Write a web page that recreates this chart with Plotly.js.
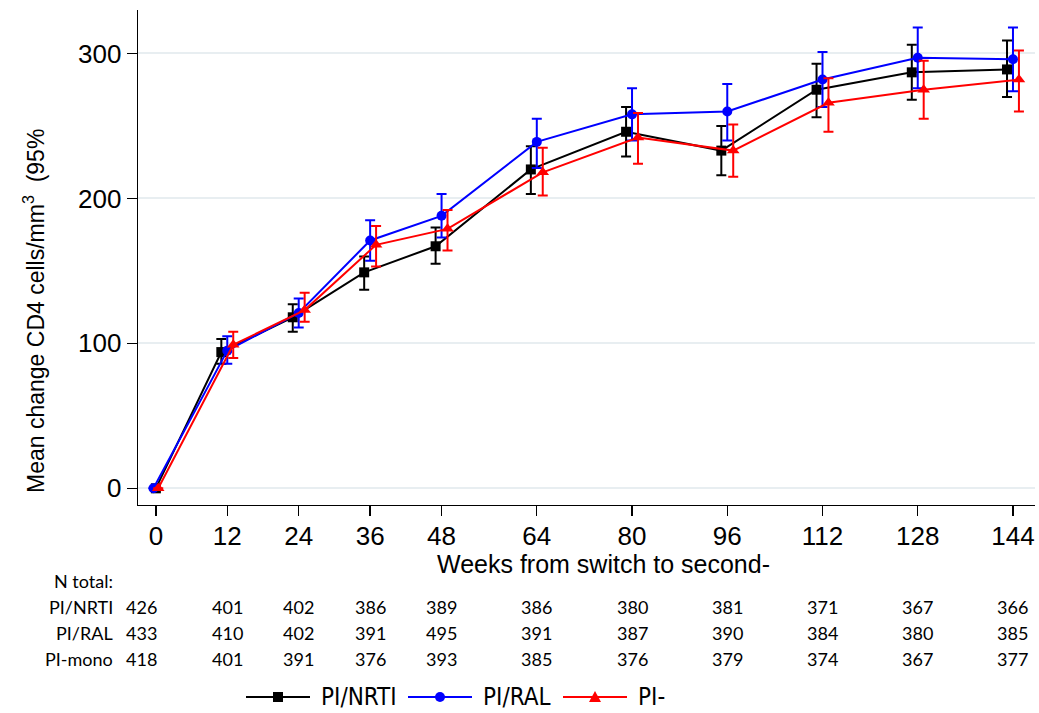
<!DOCTYPE html>
<html>
<head>
<meta charset="utf-8">
<script src="https://cdn.plot.ly/plotly-3.0.1.min.js"></script>
<style>html,body{margin:0;padding:0;background:#fff;}#chart{width:1039px;height:713px;}</style>
</head>
<body>
<div id="chart"></div>
<script>
// ---- data ----
var weeks = [0, 12, 24, 36, 48, 64, 80, 96, 112, 128, 144];
var tickLabels = ["0", "12", "24", "36", "48", "64", "80", "96", "112", "128", "144"];

// plotted x positions (groups are slightly dodged around each visit week)
var xNRTI = [0, 11, 23, 35, 47, 63, 79, 95, 111, 127, 143];
var xRAL  = [-0.4, 12, 24, 36, 48, 64, 80, 96, 112, 128, 144];
var xMono = [0.4, 13, 25, 37, 49, 65, 81, 97, 113, 129, 145];

var meanNRTI = [0, 94, 118, 149, 167, 220, 246, 233, 275, 287, 289];
var upNRTI   = [0, 103, 127, 160, 180, 236, 263, 250, 293, 306, 309];
var loNRTI   = [0, 86, 108, 137, 155, 203, 229, 216, 256, 268, 270];

var meanRAL = [0, 95, 121, 171, 188, 239, 258, 260, 282, 297, 296];
var upRAL   = [0, 105, 131, 185, 203, 255, 276, 279, 301, 318, 318];
var loRAL   = [0, 86, 111, 157, 173, 221, 240, 240, 263, 276, 274];

var meanMono = [0, 99, 123, 168, 179, 218, 242, 233, 266, 275, 282];
var upMono   = [0, 108, 135, 181, 192, 235, 259, 251, 283, 295, 302];
var loMono   = [0, 90, 115, 153, 164, 202, 224, 215, 246, 255, 260];

var nNRTI = [426, 401, 402, 386, 389, 386, 380, 381, 371, 367, 366];
var nRAL  = [433, 410, 402, 391, 495, 391, 387, 390, 384, 380, 385];
var nMono = [418, 401, 391, 376, 393, 385, 376, 379, 374, 367, 377];

var seriesNames = ["PI/NRTI", "PI/RAL", "PI-"];
var seriesColors = ["#000000", "#0000ff", "#ff0000"];
var rowLabels = ["PI/NRTI", "PI/RAL", "PI-mono"];
var tableTitle = "N total:";
var xTitle = "Weeks from switch to second-";
var yTitle = "Mean change CD4 cells/mm<sup>3</sup>  (95%";

// ---- build ----
function diff(a, b) { return a.map(function (v, i) { return v - b[i]; }); }

function makeTrace(name, x, mean, up, lo, color, symbol, size) {
  return {
    type: "scatter", mode: "lines+markers", name: name, showlegend: false,
    x: x, y: mean,
    line: { color: color, width: 2 },
    marker: { color: color, symbol: symbol, size: size },
    error_y: {
      type: "data", symmetric: false,
      array: diff(up, mean), arrayminus: diff(mean, lo),
      color: color, thickness: 2, width: 5
    }
  };
}

var traces = [
  makeTrace(seriesNames[0], xNRTI, meanNRTI, upNRTI, loNRTI, seriesColors[0], "square", 10),
  makeTrace(seriesNames[1], xRAL, meanRAL, upRAL, loRAL, seriesColors[1], "circle", 10),
  makeTrace(seriesNames[2], xMono, meanMono, upMono, loMono, seriesColors[2], "triangle-up", 11)
];

// plot area in pixels (used only to convert legend/table placement to paper units)
var PL = 138, PR = 1035, PT = 10, PB = 505;
function px(x) { return (x - PL) / (PR - PL); }
function py(y) { return (PB - y) / (PB - PT); }

var tableFont = { family: "Lato, 'Open Sans', sans-serif", size: 18, color: "#000" };
var annotations = [];
var rowY = [607, 633, 659];
var rows = [nNRTI, nRAL, nMono];
annotations.push({ xref: "paper", yref: "paper", x: px(115), y: py(581),
  xanchor: "right", yanchor: "middle", text: tableTitle, showarrow: false, font: tableFont });
rows.forEach(function (row, r) {
  annotations.push({ xref: "paper", yref: "paper", x: px(115), y: py(rowY[r]),
    xanchor: "right", yanchor: "middle", text: rowLabels[r], showarrow: false, font: tableFont });
  row.forEach(function (n, i) {
    annotations.push({ xref: "x", yref: "paper", x: weeks[i], y: py(rowY[r]),
      xshift: i === 0 ? -14 : 0,
      xanchor: "center", yanchor: "middle", text: String(n), showarrow: false, font: tableFont });
  });
});
annotations.push({ xref: "paper", yref: "paper", x: px(603), y: py(564),
  xanchor: "center", yanchor: "middle", text: xTitle, showarrow: false,
  font: { family: "'Liberation Sans', Arial, sans-serif", size: 25, color: "#000" } });
annotations.push({ xref: "paper", yref: "paper", x: px(34), y: py(311),
  xanchor: "center", yanchor: "middle", textangle: -90, text: yTitle, showarrow: false,
  font: { family: "'Liberation Sans', Arial, sans-serif", size: 23, color: "#000" } });

// manual legend (long line samples as in the reference)
var legendFont = { family: "'Liberation Sans Narrow', 'DejaVu Sans Condensed', Arial, sans-serif", size: 24, color: "#000" };
var legendStarts = [246, 408, 563];
var legendY = 697;
var shapes = [];
legendStarts.forEach(function (x0, k) {
  var c = seriesColors[k], mx = x0 + 32;
  shapes.push({ type: "line", xref: "paper", yref: "paper", x0: px(x0), x1: px(x0 + 64),
    y0: py(legendY), y1: py(legendY), line: { color: c, width: 2 } });
  if (k === 0) {
    shapes.push({ type: "rect", xref: "paper", yref: "paper", x0: px(mx - 5), x1: px(mx + 5),
      y0: py(legendY + 5), y1: py(legendY - 5), fillcolor: c, line: { width: 0 } });
  } else if (k === 1) {
    shapes.push({ type: "circle", xref: "paper", yref: "paper", x0: px(mx - 5), x1: px(mx + 5),
      y0: py(legendY + 5), y1: py(legendY - 5), fillcolor: c, line: { width: 0 } });
  } else {
    shapes.push({ type: "path", xref: "paper", yref: "paper",
      path: "M " + px(mx - 6) + " " + py(legendY + 5) + " L " + px(mx + 6) + " " + py(legendY + 5) +
            " L " + px(mx) + " " + py(legendY - 6) + " Z",
      fillcolor: c, line: { width: 0 } });
  }
  annotations.push({ xref: "paper", yref: "paper", x: px(x0 + 73), y: py(legendY),
    xanchor: "left", yanchor: "middle", text: seriesNames[k], showarrow: false, font: legendFont });
});

var axisFont = { family: "'Liberation Sans', Arial, sans-serif", size: 26, color: "#000" };

var layout = {
  width: 1039, height: 713,
  margin: { l: 138, r: 4, t: 10, b: 208, pad: 0, autoexpand: false },
  paper_bgcolor: "#fff", plot_bgcolor: "#fff",
  showlegend: false,
  xaxis: {
    range: [-3, 147.7], tickmode: "array", tickvals: weeks, ticktext: tickLabels,
    showgrid: false, zeroline: false, showline: true, linecolor: "#000", linewidth: 1.3,
    ticks: "outside", ticklen: 10, tickwidth: 1.3, tickcolor: "#000", tickfont: axisFont,
    ticklabelstandoff: -3, automargin: false
  },
  yaxis: {
    range: [-11.5, 330], tickmode: "array", tickvals: [0, 100, 200, 300],
    showgrid: true, gridcolor: "#e8eef1", gridwidth: 2, zeroline: false,
    showline: true, linecolor: "#000", linewidth: 1.3,
    ticks: "outside", ticklen: 10, tickwidth: 1.3, tickcolor: "#000", tickfont: axisFont,
    automargin: false
  },
  shapes: shapes,
  annotations: annotations
};

Plotly.newPlot("chart", traces, layout, { displayModeBar: false, staticPlot: true });
</script>
</body>
</html>
